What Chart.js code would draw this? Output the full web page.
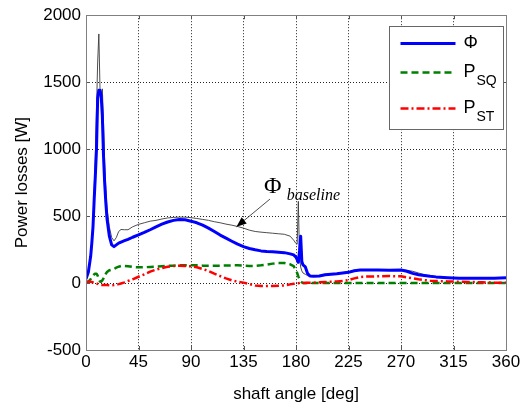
<!DOCTYPE html>
<html>
<head>
<meta charset="utf-8">
<title>Power losses vs shaft angle</title>
<style>
  html, body { margin: 0; padding: 0; background: #fff; }
  #wrap { width: 528px; height: 412px; }
</style>
<script src="https://cdn.jsdelivr.net/npm/chart.js@4.4.0/dist/chart.umd.min.js"></script>
</head>
<body>
<div id="wrap"><canvas id="losses" width="528" height="412"></canvas></div>
<script>
// shaft angle samples [deg], shared by every curve
const angles = [
  0, 2, 4, 5, 6, 7, 8, 9, 10, 11,
  12, 13, 14, 15, 16, 17, 18, 20, 22, 24,
  26, 28, 30, 33, 36, 40, 45, 50, 55, 60,
  65, 70, 75, 80, 85, 90, 95, 100, 105, 110,
  115, 120, 125, 130, 135, 140, 145, 150, 155, 160,
  165, 170, 175, 178, 180, 181, 182, 183, 184, 185,
  186, 188, 190, 192, 195, 200, 205, 210, 215, 220,
  225, 230, 235, 240, 250, 260, 270, 275, 280, 285,
  290, 295, 300, 310, 320, 330, 340, 350, 360
];

// total loss Phi [W]
const phi = [
  30, 80, 200, 300, 420, 620, 800, 1000, 1380, 1440,
  1440, 1400, 1250, 950, 750, 600, 480, 350, 285, 272,
  285, 298, 306, 316, 326, 342, 360, 378, 398, 420,
  440, 456, 468, 475, 472, 462, 450, 432, 410, 385,
  358, 335, 312, 290, 272, 258, 248, 240, 236, 233,
  230, 227, 218, 210, 192, 175, 155, 240, 350, 160,
  135, 120, 70, 52, 50, 52, 62, 66, 70, 75,
  80, 92, 97, 97, 98, 96, 97, 88, 72, 62,
  56, 50, 46, 40, 35, 35, 35, 35, 40
];

// baseline Phi [W]
const phiBaseline = [
  35, 80, 210, 320, 450, 700, 950, 1300, 1650, 1860,
  1450, 1400, 1450, 1200, 900, 700, 560, 420, 340, 315,
  340, 385, 400, 398, 398, 420, 438, 450, 462, 468,
  478, 486, 490, 492, 492, 488, 482, 475, 468, 458,
  450, 440, 432, 422, 410, 395, 385, 380, 376, 372,
  368, 364, 350, 320, 295, 290, 610, 200, 120, 90,
  75, 65, 55, 52, 50, 55, 65, 68, 72, 78,
  85, 95, 100, 100, 100, 100, 100, 95, 88, 75,
  62, 52, 46, 40, 35, 35, 35, 35, 38
];

// squeeze loss P_SQ [W]
const pSQ = [
  0, 10, 30, 45, 55, 65, 70, 70, 55, 30,
  12, 10, 20, 35, 55, 70, 82, 95, 100, 105,
  115, 122, 127, 128, 126, 120, 117, 118, 120, 122,
  125, 128, 130, 132, 133, 133, 132, 130, 130, 130,
  130, 131, 132, 132, 130, 128, 128, 132, 138, 145,
  150, 150, 140, 126, 95, 75, 50, 28, 12, 5,
  0, 0, 0, 0, 0, 0, 0, 0, 0, 0,
  0, 0, 0, 0, 0, 0, 0, 0, 0, 0,
  0, 0, 0, 0, 0, 0, 0, 0, 0
];

// shear loss P_ST [W]
const pST = [
  5, 12, 10, 8, 5, 2, 0, -3, -6, -10,
  -12, -14, -15, -15, -15, -15, -15, -16, -16, -15,
  -12, -8, -3, 5, 15, 28, 47, 65, 85, 100,
  112, 122, 127, 130, 128, 125, 118, 105, 90, 70,
  52, 35, 20, 10, 3, -8, -18, -22, -22, -22,
  -20, -18, -10, -6, -3, -2, -1, 0, 0, 0,
  1, 1, 2, 2, 3, 5, 8, 10, 12, 15,
  22, 35, 45, 48, 50, 52, 50, 42, 35, 28,
  22, 18, 15, 12, 10, 8, 5, 3, 2
];

const xTicks = [0, 45, 90, 135, 180, 225, 270, 315, 360];
const yTicks = [-500, 0, 500, 1000, 1500, 2000];

// where the baseline callout sits: label, arrow tail, arrow tip (deg, W)
const calloutLabel = [160, 672];
const calloutTail = [157.7, 627];
const calloutTip = [129, 420];

const sansFont = "'Liberation Sans', Arial, sans-serif";
const serifFont = "'Liberation Serif', 'Times New Roman', serif";

const toPoints = (vals) => angles.map((a, i) => ({ x: a, y: vals[i] }));

// gray box round the plot plus short inward ticks
const framePlugin = {
  id: 'frame',
  afterDatasetsDraw(chart) {
    const { ctx, chartArea: a, scales } = chart;
    ctx.save();
    ctx.strokeStyle = '#555';
    ctx.lineWidth = 1;
    ctx.beginPath();
    scales.x.ticks.forEach(t => {
      const px = Math.round(scales.x.getPixelForValue(t.value)) + 0.5;
      ctx.moveTo(px, a.bottom); ctx.lineTo(px, a.bottom - 4);
      ctx.moveTo(px, a.top); ctx.lineTo(px, a.top + 4);
    });
    scales.y.ticks.forEach(t => {
      const py = Math.round(scales.y.getPixelForValue(t.value)) + 0.5;
      ctx.moveTo(a.left, py); ctx.lineTo(a.left + 4, py);
      ctx.moveTo(a.right, py); ctx.lineTo(a.right - 4, py);
    });
    ctx.stroke();
    ctx.strokeStyle = '#808080';
    ctx.strokeRect(Math.round(a.left) + 0.5, Math.round(a.top) + 0.5,
      Math.round(a.right - a.left), Math.round(a.bottom - a.top));
    ctx.restore();
  }
};

// "Phi_baseline" label with an arrow pointing at the thin curve
const calloutPlugin = {
  id: 'callout',
  afterDatasetsDraw(chart) {
    const { ctx, scales: { x, y } } = chart;
    const px = p => [x.getPixelForValue(p[0]), y.getPixelForValue(p[1])];
    const [lx, ly] = px(calloutLabel);
    const [tx, ty] = px(calloutTail);
    const [hx, hy] = px(calloutTip);
    ctx.save();
    ctx.fillStyle = '#000';
    ctx.textBaseline = 'alphabetic';
    ctx.textAlign = 'center';
    ctx.font = `24px ${serifFont}`;
    ctx.fillText('Φ', lx, ly);
    ctx.textAlign = 'left';
    ctx.font = `italic 16px ${serifFont}`;
    ctx.fillText('baseline', lx + 14, ly + 7);

    ctx.strokeStyle = '#222';
    ctx.lineWidth = 0.8;
    ctx.beginPath();
    ctx.moveTo(tx, ty);
    ctx.lineTo(hx, hy);
    ctx.stroke();
    const ang = Math.atan2(hy - ty, hx - tx);
    const len = 10, half = 4;
    ctx.beginPath();
    ctx.moveTo(hx, hy);
    ctx.lineTo(hx - len * Math.cos(ang) + half * Math.sin(ang), hy - len * Math.sin(ang) - half * Math.cos(ang));
    ctx.lineTo(hx - len * Math.cos(ang) - half * Math.sin(ang), hy - len * Math.sin(ang) + half * Math.cos(ang));
    ctx.closePath();
    ctx.fill();
    ctx.restore();
  }
};

// boxed legend in the top right corner, drawn from the dataset styles
const legendPlugin = {
  id: 'boxLegend',
  afterDraw(chart) {
    const { ctx, chartArea: a } = chart;
    const bx = Math.round(a.right - 117) + 0.5, by = Math.round(a.top + 11) + 0.5;
    const bw = 114, bh = 103;
    ctx.save();
    ctx.fillStyle = '#fff';
    ctx.fillRect(bx, by, bw, bh);
    ctx.strokeStyle = '#666';
    ctx.lineWidth = 1;
    ctx.strokeRect(bx, by, bw, bh);

    const rows = [
      { ds: chart.data.datasets[2], main: 'Φ', sub: '', dy: 17 },
      { ds: chart.data.datasets[1], main: 'P', sub: 'SQ', dy: 46 },
      { ds: chart.data.datasets[0], main: 'P', sub: 'ST', dy: 82 }
    ];
    rows.forEach(r => {
      const ly = by + r.dy;
      ctx.strokeStyle = r.ds.borderColor;
      ctx.lineWidth = r.ds.borderWidth;
      ctx.setLineDash(r.ds.borderDash || []);
      ctx.beginPath();
      ctx.moveTo(bx + 11, ly);
      ctx.lineTo(bx + 66, ly);
      ctx.stroke();
      ctx.setLineDash([]);
      ctx.fillStyle = '#000';
      ctx.textAlign = 'left';
      ctx.textBaseline = 'middle';
      ctx.font = `18px ${sansFont}`;
      ctx.fillText(r.main, bx + 74, ly);
      if (r.sub) {
        const w = ctx.measureText(r.main).width;
        ctx.font = `14px ${sansFont}`;
        ctx.fillText(r.sub, bx + 74 + w + 1, ly + 9);
      }
    });
    ctx.restore();
  }
};

new Chart(document.getElementById('losses'), {
  type: 'line',
  data: {
    datasets: [
      {
        label: 'P_ST',
        data: toPoints(pST),
        borderColor: '#ff0000',
        borderWidth: 2.5,
        borderDash: [8, 3, 2, 3]
      },
      {
        label: 'P_SQ',
        data: toPoints(pSQ),
        borderColor: '#008000',
        borderWidth: 2.5,
        borderDash: [7, 4]
      },
      {
        label: 'Φ',
        data: toPoints(phi),
        borderColor: '#0000ff',
        borderWidth: 3
      },
      {
        label: 'Φ baseline',
        data: toPoints(phiBaseline),
        borderColor: '#3a3a3a',
        borderWidth: 0.9
      }
    ]
  },
  options: {
    responsive: false,
    animation: false,
    events: [],
    elements: {
      point: { radius: 0 },
      line: { tension: 0, fill: false, borderJoinStyle: 'round' }
    },
    layout: { padding: { left: 0, right: 22, top: 15, bottom: 0 } },
    plugins: {
      legend: { display: false },
      tooltip: { enabled: false }
    },
    scales: {
      x: {
        type: 'linear',
        min: 0,
        max: 360,
        afterBuildTicks: s => { s.ticks = xTicks.map(v => ({ value: v })); },
        afterFit: s => { s.height = 62; },
        ticks: {
          color: '#000',
          padding: 2,
          maxRotation: 0,
          autoSkip: false,
          callback: v => String(v),
          font: { family: sansFont, size: 17 }
        },
        grid: { color: '#222', lineWidth: 1, drawTicks: false },
        border: { display: false, dash: [1, 2] },
        title: {
          display: true,
          text: 'shaft angle [deg]',
          color: '#000',
          font: { family: sansFont, size: 17 },
          padding: { top: 0, bottom: 7 }
        }
      },
      y: {
        type: 'linear',
        min: -500,
        max: 2000,
        afterBuildTicks: s => { s.ticks = yTicks.map(v => ({ value: v })); },
        afterFit: s => { s.width = 86; },
        ticks: {
          color: '#000',
          padding: 5,
          callback: v => String(v),
          font: { family: sansFont, size: 17 }
        },
        grid: { color: '#222', lineWidth: 1, drawTicks: false },
        border: { display: false, dash: [1, 2] },
        title: {
          display: true,
          text: 'Power losses [W]',
          color: '#000',
          font: { family: sansFont, size: 17 },
          padding: { top: 12, bottom: 0 }
        }
      }
    }
  },
  plugins: [framePlugin, calloutPlugin, legendPlugin]
});
</script>
</body>
</html>
